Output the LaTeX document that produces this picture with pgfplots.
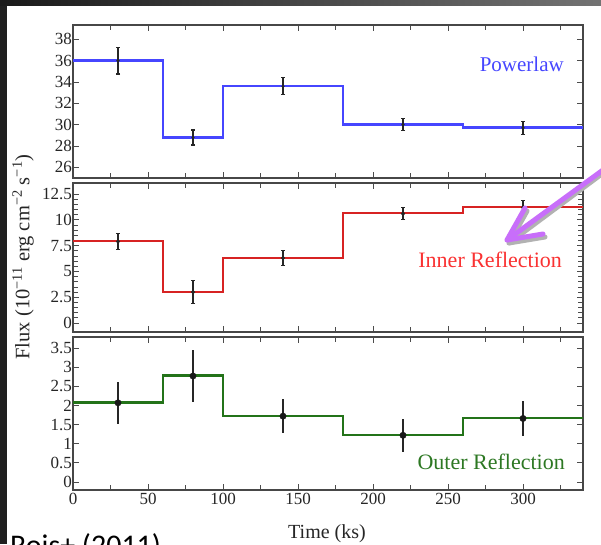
\documentclass[border=0pt]{standalone}
\usepackage{fontspec}
\setmainfont{Liberation Serif}
\newfontfamily\carlito{Carlito}
\usepackage{pgfplots}
\pgfplotsset{compat=1.18}
\usetikzlibrary{arrows.meta}
\definecolor{plblue}{RGB}{70,70,255}
\definecolor{irred}{RGB}{215,35,35}
\definecolor{irtext}{RGB}{250,50,50}
\definecolor{orgreen}{RGB}{35,115,25}
\definecolor{ortext}{RGB}{45,120,35}
\definecolor{arrowpurple}{RGB}{200,110,250}
\pgfplotsset{panel/.style={
 scale only axis, width=510pt, xmin=0, xmax=340,
 xtick={0,50,...,350}, minor x tick num=1,
 tick align=inside,
 axis line style={black!72, line width=1.8pt},
 tick style={black!70, line width=0.8pt},
 major tick length=6pt, minor tick length=5pt,
 ticklabel style={font=\fontsize{17}{17}\selectfont, text=black!85},
 yticklabel style={inner sep=1pt},
 /pgf/number format/assume math mode=true,
 clip=false,
 error bars/error bar style={line width=2pt, black!85},
 error bars/error mark options={rotate=90, mark size=2pt, line width=1.2pt, black!85},
}}
\begin{document}
\begin{tikzpicture}
\fill[white] (0pt,0pt) rectangle (601pt,544pt);
\fill[black!88] (0pt,0pt) rectangle (6.5pt,544pt);
\shade[left color=black!90, right color=black!55] (0pt,538pt) rectangle (601pt,544pt);

\begin{axis}[panel, at={(73pt,366pt)}, anchor=south west, height=153pt,
 ymin=25, ymax=39.34, ytick={26,28,...,38}, xticklabels={}]
\addplot[const plot, plblue, line width=2.5pt] coordinates {(0,36.0)(60,28.8)(100,33.6)(180,30.0)(260,29.75)(340,29.75)};
\addplot[only marks, mark=*, mark size=1.4pt, black!85, error bars/.cd, y dir=both, y explicit] coordinates {(30,36.0) +- (0,1.25) (80,28.8) +- (0,0.7) (140,33.6) +- (0,0.8) (220,30.0) +- (0,0.55) (300,29.7) +- (0,0.6)};
\node[font=\fontsize{21}{21}\selectfont, text=plblue] at (rel axis cs:0.88,0.745) {Powerlaw};
\end{axis}

\begin{axis}[panel, at={(73pt,212pt)}, anchor=south west, height=149pt,
 ymin=-0.87, ymax=13.57, ytick={0,2.5,...,12.5}, minor y tick num=4, xticklabels={}]
\addplot[const plot, irred, line width=2.5pt] coordinates {(0,7.95)(60,3.0)(100,6.3)(180,10.65)(260,11.25)(340,11.25)};
\addplot[only marks, mark=*, mark size=1.9pt, black!85, error bars/.cd, y dir=both, y explicit] coordinates {(30,7.9) +- (0,0.8) (80,3.0) +- (0,1.1) (140,6.3) +- (0,0.7) (220,10.6) +- (0,0.6) (300,11.2) +- (0,0.7)};
\node[font=\fontsize{22}{22}\selectfont, text=irtext] at (rel axis cs:0.818,0.483) {Inner Reflection};
\end{axis}

\begin{axis}[panel, at={(73pt,54pt)}, anchor=south west, height=153pt,
 ymin=-0.21, ymax=3.79, ytick={0,0.5,...,3.5}]
\addplot[const plot, orgreen, line width=2.5pt] coordinates {(0,2.08)(60,2.79)(100,1.73)(180,1.23)(260,1.67)(340,1.67)};
\addplot[only marks, mark=*, mark size=3.2pt, black!90, error bars/.cd, y dir=both, y explicit, error mark=none] coordinates {(30,2.07) +- (0,0.55) (80,2.77) +- (0,0.68) (140,1.72) +- (0,0.44) (220,1.22) +- (0,0.43) (300,1.66) +- (0,0.47)};
\node[font=\fontsize{22}{22}\selectfont, text=ortext] at (rel axis cs:0.82,0.183) {Outer Reflection};
\end{axis}

\node[rotate=90, font=\fontsize{20.5}{20.5}\selectfont, text=black!85] at (23pt,287pt) {Flux (10\textsuperscript{−11} erg cm\textsuperscript{−2} s\textsuperscript{−1})};
\node[anchor=base, font=\fontsize{20}{20}\selectfont, text=black!85] at (327pt,6pt) {Time (ks)};
\node[anchor=base west, font=\carlito\fontsize{30}{30}\selectfont, inner sep=0pt] at (10pt,-11pt) {Rois+ (2011)};

\draw[black!30, line width=5pt, line cap=round] (603pt,371pt) -- (509pt,301pt);
\draw[black!30, line width=5pt, line cap=round, line join=round] (527pt,333pt) -- (509pt,301pt) -- (545pt,307pt);
\draw[arrowpurple, line width=5pt, line cap=round] (603pt,374pt) -- (507pt,304pt);
\draw[arrowpurple, line width=5pt, line cap=round, line join=round] (525pt,336pt) -- (507pt,304pt) -- (543pt,310pt);

\pgfresetboundingbox
\useasboundingbox (0pt,0pt) rectangle (601pt,544pt);
\end{tikzpicture}
\end{document}
